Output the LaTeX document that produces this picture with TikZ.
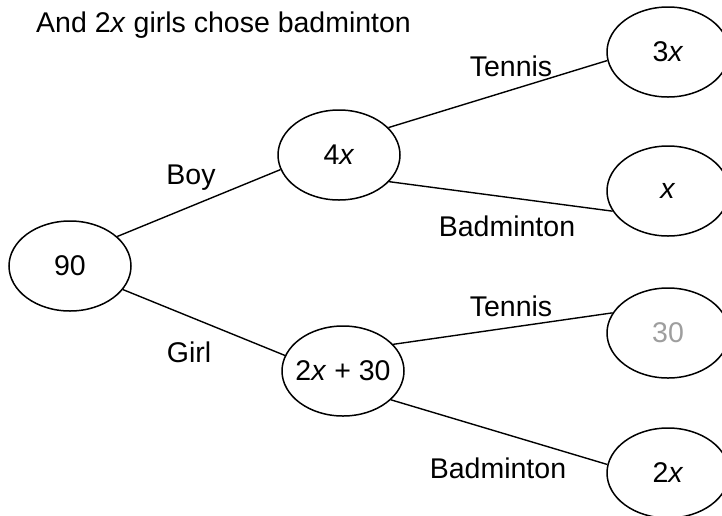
\documentclass[tikz,border=0pt]{standalone}
\usepackage{fontspec}
\setmainfont{Liberation Sans}
\usetikzlibrary{shapes.geometric}
\begin{document}
\begin{tikzpicture}[x=1pt,y=-1pt,
  ell/.style={draw,ellipse,line width=1.5pt,minimum width=122pt,minimum height=90pt,inner sep=0pt},
  lbl/.style={inner sep=0pt,font=\fontsize{28.5}{33}\selectfont},
  conn/.style={line width=1.4pt}]
\clip (0,0) rectangle (722,515);
\useasboundingbox (0,0) rectangle (722,515);
\node[lbl,anchor=base west] (head) at (36,32) {And 2\textit{x} girls chose badminton};
% ellipses
\node[ell] (r) at (70,266) {};
\node[ell] (b) at (339,155) {};
\node[ell] (g) at (343,371) {};
\node[ell] (bt) at (668,52) {};
\node[ell] (bb) at (668,191) {};
\node[ell] (gt) at (668,333) {};
\node[ell] (gb) at (668,473) {};
% texts
\node[lbl] (rt) at (r) {90};
\node[lbl] (btx) at (b) {4\textit{x}};
\node[lbl] (gtx) at (g) {2\textit{x} + 30};
\node[lbl] (bttx) at (bt) {3\textit{x}};
\node[lbl] (bbtx) at (bb) {\textit{x}};
\node[lbl,text=black!38] (gttx) at (gt) {30};
\node[lbl] (gbtx) at (gb) {2\textit{x}};
% connectors
\draw[conn] (r.32) -- (b.194);
\draw[conn] (r.-24) -- (g.165);
\draw[conn] (b.29) -- (bt.188);
\draw[conn] (b.-28) -- (bb.200);
\draw[conn] (g.28) -- (gt.160);
\draw[conn] (g.-31) -- (gb.172);
% branch labels
\node[lbl] (lboy) at (191,178) {Boy};
\node[lbl] (lgirl) at (189,352) {Girl};
\node[lbl] (lt1) at (511,66) {Tennis};
\node[lbl] (lb1) at (507,226) {Badminton};
\node[lbl] (lt2) at (511,306) {Tennis};
\node[lbl] (lb2) at (498,468) {Badminton};
\end{tikzpicture}
\end{document}
